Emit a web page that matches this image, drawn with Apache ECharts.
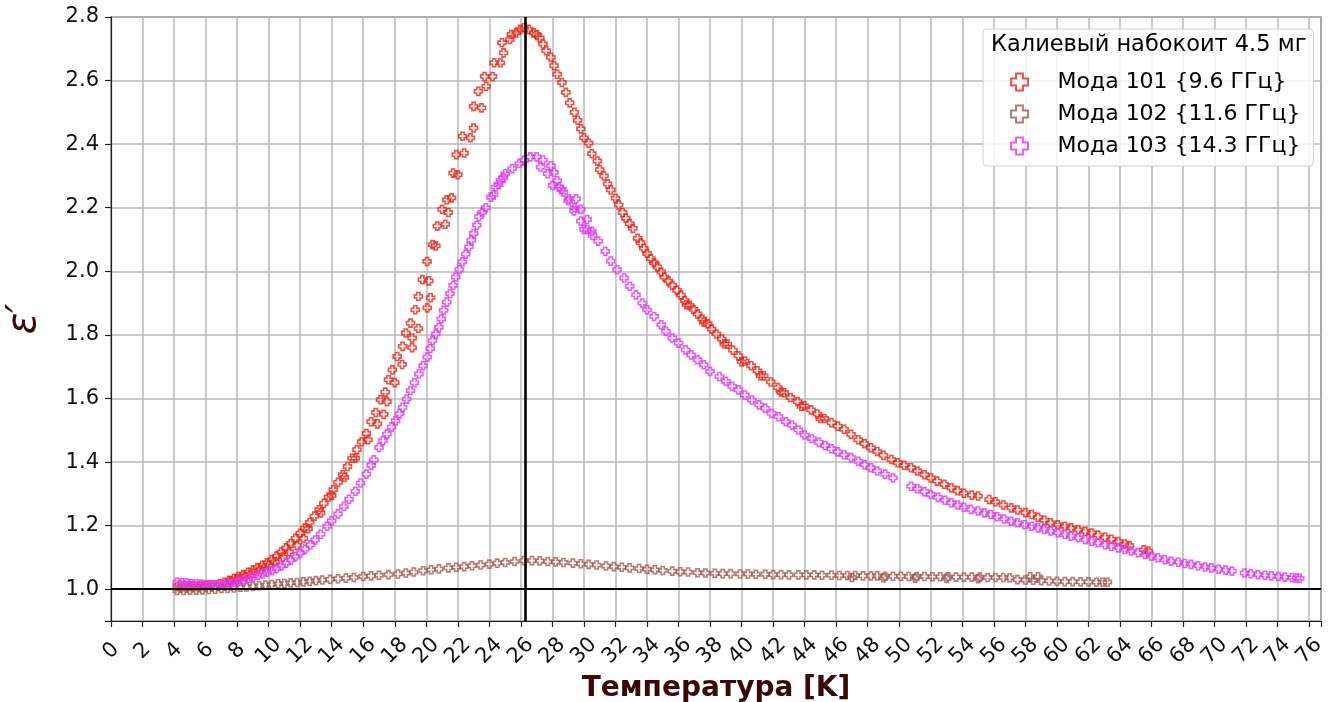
<!DOCTYPE html>
<html>
<head>
<meta charset="utf-8">
<script src="https://cdn.jsdelivr.net/npm/echarts@6/dist/echarts.min.js"></script>
<style>
  html, body { margin: 0; padding: 0; background: #fff; }
  #chart { width: 1335px; height: 702px; }
</style>
</head>
<body>
<div id="chart"></div>
<script>
// ε' против температуры, калиевый набокоит
const seriesNames = ['Мода 101 {9.6 ГГц}', 'Мода 102 {11.6 ГГц}', 'Мода 103 {14.3 ГГц}'];
const legendTitle = 'Калиевый набокоит 4.5 мг';
const peakT = 26.25;   // вертикальная линия
const baseEps = 1.0;   // горизонтальная линия

// Мода 101 (красная)
const mode101 = [
  [4.2,1.008],[4.5,1.008],[4.8,1.008],[5.1,1.009],[5.4,1.009],[5.7,1.010],[6.0,1.011],[6.3,1.012],
  [6.6,1.014],[6.9,1.017],[7.2,1.022],[7.5,1.028],[7.8,1.034],[8.1,1.040],[8.4,1.046],[8.7,1.053],
  [9.0,1.060],[9.3,1.068],[9.6,1.075],[9.9,1.083],[10.2,1.093],[10.5,1.104],[10.8,1.117],[11.1,1.130],
  [11.4,1.144],[11.7,1.160],[12.0,1.176],[12.3,1.192],[12.6,1.210],[12.9,1.230],[13.2,1.250],[13.5,1.270],
  [13.8,1.290],[14.1,1.313],[14.4,1.336],[14.7,1.360],[15.0,1.386],[15.3,1.412],[15.6,1.439],[15.9,1.464],
  [16.2,1.490],[16.5,1.527],[16.8,1.556],[17.1,1.596],[17.4,1.620],[17.6,1.659],[17.85,1.690],[18.15,1.732],
  [18.5,1.764],[18.7,1.806],[19.0,1.837],[19.3,1.879],[19.5,1.921],[19.75,1.974],[20.05,2.031],[20.4,2.084],
  [20.7,2.142],[21.0,2.195],[21.3,2.225],[21.7,2.309],[21.9,2.367],[22.3,2.425],[23.0,2.451],[23.0,2.519],
  [23.3,2.566],[23.7,2.613],[24.3,2.656],[24.8,2.719],[25.3,2.729],[25.7,2.750],[25.95,2.761],[26.2,2.766],
  // второй ряд на подъёме
  [7.6,1.026],[8.0,1.032],[8.5,1.040],[9.0,1.050],[9.5,1.062],[10.0,1.075],[10.4,1.087],[10.9,1.102],
  [11.3,1.118],[11.8,1.138],[12.2,1.160],
  [12.5,1.190],[13.3,1.240],[14.0,1.295],[14.8,1.352],[15.5,1.412],[16.3,1.470],[16.9,1.520],[17.3,1.550],
  [17.5,1.590],[18.0,1.650],[18.47,1.707],[19.1,1.760],[19.1,1.790],[19.5,1.820],[20.06,1.885],[20.27,1.917],
  [20.16,1.970],[20.6,2.080],[21.2,2.148],[21.4,2.185],[21.6,2.231],[22.0,2.304],[22.4,2.372],[22.8,2.420],
  [23.5,2.514],[23.8,2.582],[24.2,2.613],[24.7,2.656],[24.9,2.687],[25.4,2.745],
  // спад
  [26.5,2.761],[26.8,2.750],[27.0,2.745],[27.2,2.734],[27.4,2.715],[27.6,2.694],[27.9,2.673],[28.1,2.647],
  [28.3,2.620],[28.6,2.594],[28.85,2.563],[29.1,2.530],[29.4,2.500],[29.6,2.475],[29.8,2.448],[30.0,2.420],
  [30.3,2.403],[30.5,2.370],[30.85,2.347],[31.0,2.320],[31.27,2.300],[31.5,2.275],[31.7,2.256],[32.0,2.230],
  [32.2,2.209],[32.45,2.185],[32.65,2.167],[32.9,2.150],[33.1,2.135],[33.4,2.104],[33.6,2.090],[33.8,2.072],
  [34.0,2.056],[34.24,2.040],[34.45,2.027],[34.66,2.014],[34.9,1.998],[35.1,1.982],[35.35,1.970],[35.6,1.956],
  [35.9,1.940],[36.15,1.925],[36.4,1.908],[36.7,1.893],[36.95,1.880],[37.2,1.866],[37.5,1.850],[37.85,1.835],
  [38.1,1.818],[38.4,1.803],[38.75,1.787],[39.1,1.771],[39.45,1.752],[39.8,1.734],[40.2,1.718],[40.6,1.703],
  [41.0,1.687],[41.4,1.671],[41.85,1.652],[42.3,1.634],[42.7,1.618],[43.1,1.603],[43.55,1.590],[43.97,1.577],
  [44.4,1.564],[44.8,1.551],[45.25,1.537],[45.7,1.524],[46.1,1.513],[46.5,1.503],[46.94,1.487],[47.4,1.470],
  [47.8,1.458],[48.2,1.445],[48.6,1.433],[49.0,1.421],[49.5,1.408],[49.9,1.398],[50.3,1.390],[50.75,1.382],
  [51.15,1.372],[51.6,1.360],[52.0,1.350],[52.4,1.340],[52.85,1.330],[53.3,1.319],[53.7,1.310],[54.1,1.302],
  [54.6,1.296],[55.0,1.293],
  [36.5,1.895],[37.6,1.840],[38.9,1.772],[40.0,1.715],[41.2,1.672],[42.5,1.620],[43.8,1.575],[45.0,1.537],
  [55.7,1.282],[56.1,1.275],[56.6,1.265],[57.1,1.256],[57.5,1.249],[58.0,1.241],[58.4,1.235],[58.8,1.226],
  [59.2,1.217],[59.6,1.209],[60.05,1.203],[60.5,1.198],[60.9,1.193],[61.35,1.187],[61.8,1.182],[62.2,1.177],
  [62.6,1.170],[63.05,1.163],[63.45,1.157],[63.9,1.150],[64.3,1.142],[64.6,1.137],[65.5,1.124],[65.8,1.120]
];

// Мода 102 (коричневая)
const mode102 = [
  [4.2,0.996],[4.6,0.996],[5.0,0.997],[5.4,0.997],[5.8,0.998],[6.2,0.999],[6.6,1.000],[7.0,1.002],
  [7.4,1.003],[7.8,1.004],[8.2,1.006],[8.6,1.007],[9.0,1.009],[9.4,1.011],[9.8,1.013],[10.2,1.015],
  [10.6,1.017],[11.0,1.018],[11.4,1.020],[11.8,1.021],[12.2,1.023],[12.6,1.025],[13.0,1.027],[13.4,1.029],
  [13.9,1.031],[14.4,1.033],[14.9,1.035],[15.4,1.037],[16.0,1.040],[16.5,1.042],[17.0,1.044],[17.6,1.046],
  [18.2,1.048],[18.7,1.051],[19.2,1.054],[19.8,1.058],[20.3,1.061],[20.8,1.064],[21.4,1.067],[21.9,1.069],
  [22.4,1.071],[22.9,1.074],[23.45,1.076],[24.0,1.079],[24.5,1.082],[25.0,1.084],[25.6,1.087],[26.2,1.090],
  [26.7,1.090],[27.2,1.089],[27.7,1.087],[28.2,1.086],[28.7,1.084],[29.3,1.082],[29.8,1.080],[30.3,1.078],
  [30.8,1.076],[31.4,1.073],[31.9,1.071],[32.4,1.069],[32.9,1.067],[33.5,1.065],[34.0,1.063],[34.5,1.061],
  [35.0,1.059],[35.6,1.057],[36.1,1.055],[36.6,1.054],[37.2,1.052],[37.7,1.051],[38.3,1.050],[38.8,1.049],
  [39.3,1.049],[39.9,1.048],[40.4,1.048],[40.9,1.047],[41.5,1.047],[42.0,1.046],[42.5,1.046],[43.0,1.045],
  [43.6,1.045],[44.1,1.045],[44.6,1.045],[45.1,1.044],[45.7,1.044],[46.2,1.043],[46.7,1.043],[47.2,1.043],
  [47.7,1.042],[48.2,1.042],[48.6,1.042],[49.1,1.041],[49.6,1.041],[50.1,1.041],[50.6,1.040],[51.1,1.040],
  [51.6,1.040],[52.1,1.039],[52.6,1.039],[53.1,1.039],[53.6,1.038],[54.1,1.038],[54.6,1.038],[55.1,1.038],
  [55.6,1.037],[56.1,1.037],[56.6,1.037],[57.0,1.036],[58.3,1.039],[58.8,1.039],
  [47.0,1.037],[49.0,1.036],[51.0,1.035],[53.0,1.034],[55.0,1.033],
  [57.5,1.030],[58.0,1.029],[58.5,1.028],[59.0,1.027],[59.5,1.026],[60.0,1.025],[60.5,1.024],[61.0,1.024],
  [61.5,1.023],[62.0,1.023],[62.5,1.022],[62.9,1.022],[63.2,1.022]
];

// Мода 103 (пурпурная)
const mode103 = [
  [4.2,1.022],[4.5,1.021],[4.8,1.019],[5.1,1.018],[5.4,1.017],[5.7,1.016],[6.0,1.015],[6.3,1.014],
  [6.6,1.014],[6.9,1.014],[7.2,1.015],[7.5,1.018],[7.8,1.021],[8.1,1.025],[8.4,1.029],[8.7,1.033],
  [9.0,1.038],[9.3,1.043],[9.6,1.048],[9.9,1.053],[10.2,1.058],[10.5,1.065],[10.8,1.073],[11.1,1.082],
  [11.4,1.092],[11.7,1.102],[12.0,1.114],[12.3,1.126],[12.65,1.140],[12.95,1.155],[13.3,1.173],[13.7,1.198],
  [14.0,1.215],[14.4,1.237],[14.77,1.260],[15.1,1.283],[15.5,1.308],[15.83,1.334],[16.2,1.362],[16.5,1.390],
  [16.67,1.407],[17.0,1.446],[17.25,1.467],[17.5,1.488],[17.8,1.510],[18.05,1.530],[18.3,1.552],[18.5,1.572],
  [18.75,1.598],[19.0,1.625],[19.25,1.650],[19.53,1.677],[19.8,1.703],[20.06,1.730],[20.25,1.757],[20.4,1.782],
  [20.6,1.803],[20.8,1.824],[20.95,1.850],[21.1,1.877],[21.3,1.903],[21.5,1.930],[21.7,1.956],[21.86,1.982],
  [22.1,2.006],[22.29,2.030],[22.5,2.054],[22.7,2.077],[22.85,2.098],[23.0,2.119],[23.2,2.145],[23.34,2.172],
  [23.55,2.186],[23.77,2.200],[24.1,2.233],[24.26,2.241],[24.4,2.265],[24.6,2.273],[24.7,2.286],[24.9,2.294],
  [25.0,2.307],[25.45,2.323],[25.9,2.339],[26.2,2.349],[26.6,2.360],[27.0,2.360],[27.4,2.350],[27.9,2.332],
  [28.1,2.311],[28.3,2.285],[28.6,2.258],[29.0,2.222],[29.37,2.190],[29.8,2.158],[30.2,2.132],[30.55,2.113],
  [30.9,2.095],[31.35,2.063],[31.7,2.032],[32.1,2.005],[32.55,1.979],[32.9,1.953],[33.3,1.926],[33.7,1.900],
  [34.0,1.879],[34.45,1.858],[34.9,1.832],[35.2,1.811],[35.6,1.790],[36.0,1.774],[36.45,1.753],[36.8,1.737],
  [37.2,1.722],[37.6,1.706],[38.0,1.685],[38.6,1.669],[39.0,1.654],[39.4,1.638],[39.8,1.627],[40.2,1.611],
  [40.65,1.595],[41.1,1.580],[41.5,1.569],[41.9,1.553],[42.35,1.543],[42.8,1.527],[43.2,1.516],[43.6,1.501],
  [44.0,1.485],[44.45,1.474],[44.9,1.462],[45.3,1.452],[45.7,1.442],[46.1,1.432],[46.5,1.423],[46.94,1.414],
  [47.4,1.402],[47.8,1.392],[48.2,1.382],[48.6,1.372],[49.1,1.362],[49.6,1.350],
  // второй ряд у максимума
  [27.25,2.328],[27.7,2.307],[28.0,2.270],[28.4,2.265],[28.7,2.249],[29.05,2.228],[29.5,2.228],[29.4,2.200],
  [29.8,2.195],[30.2,2.163],[30.0,2.132],[30.5,2.126],
  [50.75,1.324],[51.15,1.316],[51.6,1.307],[52.0,1.298],[52.45,1.289],[52.9,1.280],[53.3,1.272],[53.7,1.265],
  [54.1,1.258],[54.55,1.251],[55.0,1.246],[55.4,1.240],[55.8,1.235],[56.2,1.228],[56.65,1.221],[57.1,1.214],
  [57.5,1.209],[57.95,1.203],[58.4,1.198],[58.8,1.193],[59.2,1.188],[59.6,1.183],[60.05,1.178],[60.5,1.172],
  [60.9,1.167],[61.35,1.162],[61.8,1.156],[62.2,1.151],[62.6,1.146],[63.05,1.140],[63.45,1.135],[63.9,1.130],
  [64.3,1.125],[64.7,1.120],[65.15,1.115],[65.6,1.109],[66.0,1.104],[66.4,1.099],[66.85,1.093],[67.25,1.088],
  [67.7,1.085],[68.1,1.081],[68.5,1.078],[68.95,1.074],[69.4,1.070],[69.8,1.067],[70.25,1.063],[70.7,1.060],
  [71.1,1.057],
  [71.9,1.051],[72.3,1.049],[72.75,1.046],[73.2,1.044],[73.6,1.042],[74.05,1.040],[74.45,1.038],[74.9,1.036],
  [75.2,1.035],[75.4,1.034]
];

const colors = ['#ea2418', '#a45a52', '#e034f2'];
const plusSymbol = 'path://M3,0H7V3H10V7H7V10H3V7H0V3H3Z';
const font = '"DejaVu Sans", sans-serif';

const chart = echarts.init(document.getElementById('chart'));

function scatter(name, data, color) {
  return {
    name: name,
    type: 'scatter',
    data: data,
    symbol: plusSymbol,
    symbolSize: 8,
    itemStyle: {
      color: 'rgba(255,255,255,0)',
      borderColor: color,
      borderWidth: 1.6
    },
    emphasis: { disabled: true },
    z: 2
  };
}

const option = {
  animation: false,
  backgroundColor: '#fff',
  textStyle: { fontFamily: font },
  grid: {
    left: 111, top: 17, right: 14, bottom: 81,
    outerBoundsMode: 'none',
    containLabel: false,
    show: true, borderColor: '#222', borderWidth: 1.2, backgroundColor: '#fff'
  },
  legend: {
    data: seriesNames,
    orient: 'vertical',
    left: 983,
    top: 29,
    padding: [42, 13, 9, 27],
    itemWidth: 66,
    itemHeight: 17,
    itemGap: 10,
    backgroundColor: 'rgba(255,255,255,0.8)',
    borderColor: '#d0d0d0',
    borderWidth: 1,
    borderRadius: 4,
    textStyle: { fontFamily: font, fontSize: 22, color: '#000' },
    selectedMode: false,
    z: 20
  },
  graphic: [{
    type: 'text',
    left: 991,
    top: 34,
    z: 100,
    style: { text: legendTitle, fill: '#000', font: '22.5px "DejaVu Sans"' }
  }],
  xAxis: {
    type: 'value',
    min: 0,
    max: 76.75,
    interval: 2,
    name: 'Температура [K]',
    nameLocation: 'middle',
    nameGap: 50,
    nameTextStyle: { fontFamily: font, fontSize: 28, fontWeight: 'bold', color: '#3a0808' },
    axisLine: { onZero: false, lineStyle: { color: '#222', width: 1.2 } },
    axisTick: { length: 6, lineStyle: { color: '#222', width: 1.2 } },
    axisLabel: {
      rotate: 45,
      align: 'center',
      verticalAlign: 'middle',
      margin: 30,
      fontSize: 21,
      color: '#111',
      fontFamily: font,
      formatter: v => (v % 2 === 0 ? String(v) : '')
    },
    splitLine: { show: true, lineStyle: { color: '#b8b8b8', width: 1.5 } }
  },
  yAxis: {
    type: 'value',
    min: 0.9,
    max: 2.8,
    splitNumber: 10,
    minInterval: 0.2,
    maxInterval: 0.2,
    name: 'ε′',
    nameLocation: 'middle',
    nameRotate: 90,
    nameGap: 66,
    nameTextStyle: { fontFamily: font, fontSize: 40, fontStyle: 'italic', color: '#3a0808' },
    axisLine: { onZero: false, lineStyle: { color: '#222', width: 1.2 } },
    axisTick: { length: 6, lineStyle: { color: '#222', width: 1.2 } },
    axisLabel: {
      margin: 12,
      fontSize: 21,
      color: '#111',
      fontFamily: font,
      formatter: v => (Math.abs(v - 0.9) < 1e-6 ? '' : v.toFixed(1))
    },
    splitLine: { show: true, lineStyle: { color: '#b8b8b8', width: 1.5 } }
  },
  series: [
    scatter(seriesNames[0], mode101, colors[0]),
    scatter(seriesNames[1], mode102, colors[1]),
    scatter(seriesNames[2], mode103, colors[2]),
    {
      type: 'line',
      data: [],
      z: 5,
      silent: true,
      markLine: {
        silent: true,
        symbol: 'none',
        label: { show: false },
        animation: false,
        data: [
          { xAxis: peakT, lineStyle: { color: '#000', width: 2.6, type: 'solid' } },
          { yAxis: baseEps, lineStyle: { color: '#000', width: 2.2, type: 'solid' } }
        ]
      }
    }
  ]
};

chart.setOption(option);
</script>
</body>
</html>
